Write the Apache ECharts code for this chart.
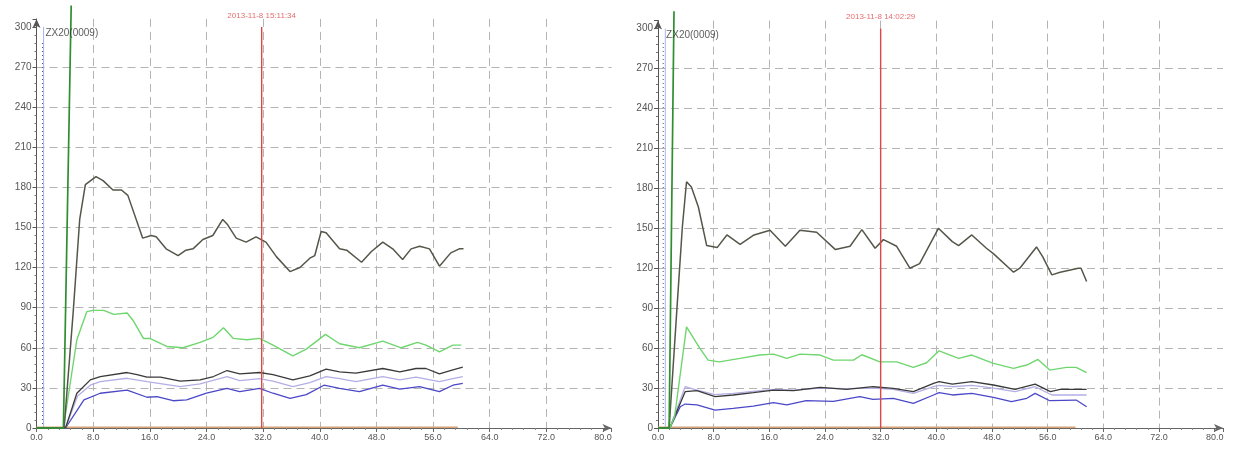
<!DOCTYPE html>
<html><head><meta charset="utf-8">
<script src="https://cdn.jsdelivr.net/npm/echarts@6/dist/echarts.min.js"></script>
<style>html,body{margin:0;padding:0;background:#fff}#c{width:1241px;height:455px}</style>
</head><body><div id="c"></div>
<script>
// ---------- data (x = time, y = value) ----------
var xTickInterval = 8;
var yTickInterval = 30;

// Left chart
var L_dark = [[0,0],[3.9,0],[5.2,88],[6.1,156],[6.9,182],[8.4,188],[9.4,185],[10.8,178],[12,178],[12.9,174],[15,142],[16.2,144],[16.9,143],[18.3,134],[20,129],[21.1,133],[22.1,134],[23.5,141],[24.9,144],[26.3,156],[27,152],[28.2,142],[29.6,139],[31,143],[32.4,139],[33.9,128],[35.8,117],[37.2,120],[38.6,127],[39.3,129],[40.2,147],[40.9,146],[42.8,134],[43.8,133],[45.9,124],[47.3,132],[48.9,139],[50.3,134],[51.7,126],[52.9,134],[54.1,136],[55.5,134],[56.9,121],[58.5,131],[59.7,134],[60.3,134]];
var L_green = [[0,0],[3.8,0],[5.7,66],[7.1,87],[8,88],[9.5,88],[10.9,85],[12.8,86],[13.7,80],[15.1,67],[16,67],[18.4,61],[20.7,60],[23.1,64],[25,68],[26.4,75],[27.8,67],[29.7,66],[31.5,67],[33.4,62],[36.2,54],[38.1,59],[40.8,70],[42.8,63],[45.6,60],[48.9,65],[51.5,60],[53.8,64],[55,62],[56.9,57],[58.8,62],[60,62]];
var L_black = [[0,0],[4.1,0],[5.7,26],[7.6,36],[9,38.5],[12.8,41.5],[14.2,40],[15.6,38],[17.5,38],[20.3,35],[23.1,36],[25,38.5],[26.9,43],[28.7,40.5],[31.5,41.5],[33.4,40],[36.2,36],[38.6,39],[40.9,44],[42.8,42],[45.1,41],[48.9,44.5],[51.3,42],[53.6,44.5],[55,44.5],[56.9,40.5],[58.8,43.5],[60.2,45.5]];
var L_lav = [[0,0],[4.1,0],[5.8,24],[7.6,32],[9,34.7],[12.8,37.2],[15.6,34.7],[20.3,31],[23.1,33],[26.9,38.4],[28.7,35.4],[31.5,37],[33.4,35],[36.2,31],[38.6,34],[40.9,38.4],[42.8,37],[45.1,34.7],[48.9,38.4],[51.3,36],[53.6,38],[56.9,34.7],[58.8,37],[60.2,38.4]];
var L_blue = [[0,0],[4.1,0],[6.7,21],[9,26],[12.8,28.4],[15.6,23],[17,23.4],[19.3,20.4],[21.2,21],[24,26],[26.9,29.7],[28.7,27.2],[31.5,29.7],[33.4,26],[35.8,22.2],[38.1,25],[40.6,32],[42.8,29.7],[45.6,27.2],[48.9,32],[51.3,29],[54.1,31],[56.9,27.2],[58.8,32],[60.2,33.4]];
var L_orange = [[0,0.5],[59.5,0.5]];
var L_spike = [[0,0],[3.8,0],[4.9,316]];
var L_dotX = 0.85, L_blueX = 1.0, L_redX = 31.8;
var L_stamp = '2013-11-8 15:11:34';

// Right chart
var R_dark = [[0,0],[1.6,0],[2.7,88],[3.5,151],[4.1,185],[4.8,181],[5.8,166],[7,137],[8.5,135.5],[9.9,145],[11.8,138],[13.8,145],[16.1,148.5],[18.3,136.5],[20.4,148.5],[22.8,147],[25.5,134],[27.6,136.5],[29.3,149],[31.2,135],[32.4,141.5],[34.3,136.5],[36.2,120],[37.6,123.5],[40.3,150],[42.3,140],[43.2,137],[45.1,145],[47.2,135],[48.2,131],[51.1,117],[52,120],[54.4,136],[55.3,128.5],[56.6,115],[57.8,117],[60.4,120],[60.8,120],[61.6,110]];
var R_green = [[0,0],[1.7,0],[2.4,9],[4.1,76],[6,60],[7.2,51],[8.8,49.7],[11.8,52.3],[14.6,54.8],[16.6,55.5],[18.5,52.3],[20.4,55.5],[23.3,54.8],[25.2,51],[28.1,51],[29.3,55],[31.9,49.7],[34.3,49.7],[36.7,45.5],[38.6,49],[40.4,58],[43.2,52.3],[45.1,54.8],[48.2,48.5],[51.1,44.8],[53,47.3],[54.6,51.5],[56.3,43.5],[58.7,45.5],[60.1,45.5],[61.6,41.5]];
var R_black = [[0,0],[1.7,0],[3.9,27.3],[5.6,28],[8.2,23.5],[10.8,24.8],[13.7,26.5],[16.6,28.5],[19.5,28],[23.3,30.5],[27.1,29],[30.9,31],[33.8,29.8],[36.7,27.3],[39.6,33.5],[40.4,34.8],[42.3,33],[45.1,34.8],[48.2,32.3],[51.3,29],[54.2,33],[56.4,27.3],[57.8,29],[61.6,29]];
var R_lav = [[0,0],[1.7,0],[3.9,31],[5.6,28.5],[8.2,25],[10.8,26],[13.7,27.5],[16.6,29],[19.5,28.5],[23.3,30],[27.1,29.5],[30.9,30],[33.8,29],[36.7,26],[39.6,31],[40.4,32],[42.3,31],[45.1,32],[48.2,30],[51.3,27.3],[54.2,31],[56.6,24.8],[61.6,24.8]];
var R_blue = [[0,0],[1.7,0],[3.2,16],[3.9,18],[5.6,17.3],[8.2,13.5],[10.8,14.8],[13.7,16.5],[16.6,19],[18.5,17.3],[21.3,20.5],[25.2,20],[29,23.5],[30.9,21.5],[33.8,22.3],[36.7,18.5],[39.6,24.8],[40.4,26.5],[42.3,24.8],[45.1,26],[48.2,23],[50.8,19.8],[53,22.3],[54.2,26],[56.3,20.5],[60.1,21],[61.6,16]];
var R_orange = [[0,0.5],[60,0.5]];
var R_spike = [[0,0],[1.6,0],[2.3,313]];
var R_dotX = 0.75, R_blueX = 1.05, R_redX = 32.0;
var R_stamp = '2013-11-8 14:02:29';

var tagText = 'ZX20(0009)';
var markTop = 300, dotTop = 290, tagY = 295;

// ---------- chart ----------
var chart = echarts.init(document.getElementById('c'), null, {renderer: 'canvas'});
var gridGrey = '#b4b4b4', clear = 'rgba(0,0,0,0)';
function splitColors() { var a = []; for (var i = 0; i < 9; i++) a.push(gridGrey); a.push(clear); return a; }

function xAx(gi) {
  return {
    type: 'value', gridIndex: gi, min: 0, max: 81.2, interval: xTickInterval,
    axisLine: {show: true, onZero: false, lineStyle: {color: '#666', width: 1}, symbol: ['none', 'arrow'], symbolSize: [6, 9]},
    axisTick: {show: true, length: 4, lineStyle: {color: '#666'}},
    minorTick: {show: true, splitNumber: 5, length: 2, lineStyle: {color: '#888'}},
    axisLabel: {formatter: function (v) { return v.toFixed(1); }, fontSize: 9, color: '#555', margin: 5, showMaxLabel: false},
    splitLine: {show: true, showMinLine: false, showMaxLine: false, lineStyle: {type: [8, 5], color: splitColors(), width: 1}}
  };
}
function yAx(gi) {
  return {
    type: 'value', gridIndex: gi, min: 0, max: 306, interval: yTickInterval,
    axisLine: {show: true, onZero: false, lineStyle: {color: '#555', width: 1}, symbol: ['none', 'arrow'], symbolSize: [6, 9]},
    axisTick: {show: true, length: 4, lineStyle: {color: '#555'}},
    minorTick: {show: true, splitNumber: 5, length: 2, lineStyle: {color: '#777'}},
    axisLabel: {fontSize: 10, color: '#555', margin: 5, showMaxLabel: false},
    splitLine: {show: true, showMinLine: false, showMaxLine: false, lineStyle: {type: [8, 5], color: splitColors(), width: 1}}
  };
}
function ln(gi, data, color, width, extra) {
  var s = {type: 'line', xAxisIndex: gi, yAxisIndex: gi, data: data, showSymbol: false, symbol: 'none',
    lineStyle: {color: color, width: width}, itemStyle: {color: color}, silent: true, animation: false, z: 3};
  if (extra) for (var k in extra) s[k] = extra[k];
  return s;
}
function tag(gi, pt, text, color, pos, size, dist) {
  return {type: 'scatter', xAxisIndex: gi, yAxisIndex: gi, data: [pt], symbolSize: 1, itemStyle: {color: clear},
    silent: true, animation: false, z: 5,
    label: {show: true, position: pos, distance: dist, formatter: text, color: color, fontSize: size}};
}
function panel(gi, d) {
  return [
    ln(gi, [[d.blueX, 0], [d.blueX, markTop]], '#a8b4f2', 1),
    ln(gi, [[d.dotX, 0], [d.dotX, dotTop]], '#555', 1, {lineStyle: {color: '#555', width: 1, type: [1, 3]}}),
    ln(gi, [[d.redX, 0], [d.redX, markTop]], '#e04545', 1.4, {z: 4}),
    ln(gi, d.orange, '#d8a274', 1.5),
    ln(gi, d.blue, '#4b48c8', 1.3),
    ln(gi, d.lav, '#b3aee6', 1.3),
    ln(gi, d.black, '#3a3a3a', 1.3),
    ln(gi, d.green, '#6fd66f', 1.4),
    ln(gi, d.dark, '#55564a', 1.5),
    ln(gi, d.spike, '#2f8f2f', 1.7, {clip: false}),
    tag(gi, [d.redX, markTop], d.stamp, '#e04848', 'top', 8, 7),
    tag(gi, [d.dotX + 0.2, tagY], tagText, '#333', 'right', 10, 1)
  ];
}

var series = [].concat(
  panel(0, {dark: L_dark, green: L_green, black: L_black, lav: L_lav, blue: L_blue, orange: L_orange, spike: L_spike, dotX: L_dotX, blueX: L_blueX, redX: L_redX, stamp: L_stamp}),
  panel(1, {dark: R_dark, green: R_green, black: R_black, lav: R_lav, blue: R_blue, orange: R_orange, spike: R_spike, dotX: R_dotX, blueX: R_blueX, redX: R_redX, stamp: R_stamp})
);

chart.setOption({
  animation: false,
  backgroundColor: '#fff',
  textStyle: {fontFamily: 'Liberation Sans'},
  grid: [
    {left: 36.5, top: 18.9, width: 575, bottom: 27, containLabel: false},
    {left: 658, top: 20.6, width: 565, bottom: 27, containLabel: false}
  ],
  xAxis: [xAx(0), xAx(1)],
  yAxis: [yAx(0), yAx(1)],
  series: series
});
</script></body></html>
